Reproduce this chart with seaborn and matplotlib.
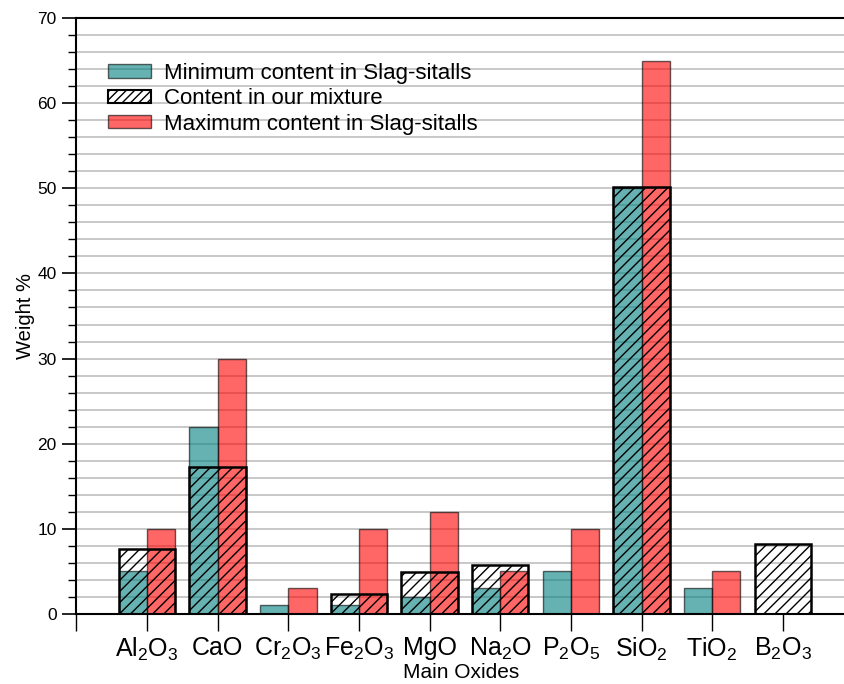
import matplotlib
matplotlib.use("Agg")
import matplotlib.pyplot as plt
from matplotlib.patches import Patch
from matplotlib.ticker import MultipleLocator
import numpy as np
import pandas as pd
import seaborn as sns

# Oxide composition ranges (wt %) for slag-sitalls and our batch
oxides = ["Al$_2$O$_3$", "CaO", "Cr$_2$O$_3$", "Fe$_2$O$_3$", "MgO",
          "Na$_2$O", "P$_2$O$_5$", "SiO$_2$", "TiO$_2$", "B$_2$O$_3$"]
min_content = [5, 22, 1, 1, 2, 3, 5, 50, 3, 0]
max_content = [10, 30, 3, 10, 12, 5, 10, 65, 5, 0]
our_mixture = [7.6, 17.3, 0, 2.3, 4.9, 5.8, 0, 50.2, 0, 8.2]

min_label = "Minimum content in Slag-sitalls"
mix_label = "Content in our mixture"
max_label = "Maximum content in Slag-sitalls"

sns.set_style("white")
plt.rcParams["font.family"] = ["Liberation Sans", "DejaVu Sans"]
plt.rcParams["mathtext.fontset"] = "custom"
plt.rcParams["mathtext.rm"] = "Liberation Sans"
plt.rcParams["mathtext.it"] = "Liberation Sans"
plt.rcParams["hatch.linewidth"] = 1.0
plt.rcParams["text.color"] = "black"
plt.rcParams["axes.labelcolor"] = "black"
plt.rcParams["xtick.color"] = "black"
plt.rcParams["ytick.color"] = "black"

teal = "#008080"
red = "#ff0000"

range_df = pd.DataFrame({
    "oxide": oxides * 2,
    "value": min_content + max_content,
    "kind": [min_label] * len(oxides) + [max_label] * len(oxides),
})
mix_df = pd.DataFrame({"oxide": oxides, "value": our_mixture})

fig = plt.figure(figsize=(8.45, 6.84), dpi=100)
ax = fig.add_axes([76.3 / 845, 1 - 614 / 684, 1 - 76.3 / 845, (614 - 18) / 684])

sns.barplot(data=range_df, x="oxide", y="value", hue="kind", order=oxides,
            hue_order=[min_label, max_label], palette=[teal, red],
            width=0.8, dodge=True, errorbar=None, saturation=1,
            alpha=0.6, edgecolor="black", linewidth=1.0, legend=False, ax=ax)
n_range = len(ax.patches)

sns.barplot(data=mix_df, x="oxide", y="value", order=oxides, color="white",
            width=0.8, errorbar=None, saturation=1, ax=ax)
for p in ax.patches[n_range:]:
    p.set_facecolor("none")
    p.set_edgecolor("black")
    p.set_linewidth(1.8)
    p.set_hatch("///")
    p.set_zorder(3)

ax.set_ylim(0, 70)
ax.set_xlim(-1, 9.88)
ax.set_xticks(np.arange(-1, len(oxides)))
ax.set_xticklabels([""] + oxides, fontsize=18)
ax.yaxis.set_major_locator(MultipleLocator(10))
ax.yaxis.set_minor_locator(MultipleLocator(2))
ax.tick_params(axis="y", which="major", direction="out", length=10, width=1.2,
               left=True, labelsize=12.5, pad=4)
ax.tick_params(axis="y", which="minor", direction="out", length=6, width=1.0, left=True)
ax.tick_params(axis="x", which="major", direction="out", length=12, width=1.0,
               bottom=True, pad=4)

ax.grid(True, axis="y", which="both", color="#c4c4c4", linewidth=1.3)
ax.grid(False, axis="x")
ax.set_axisbelow(True)

for side in ["left", "bottom", "top"]:
    ax.spines[side].set_visible(True)
    ax.spines[side].set_color("black")
    ax.spines[side].set_linewidth(1.5)
ax.spines["right"].set_visible(False)

ax.set_xlabel("Main Oxides", fontsize=15, labelpad=0)
ax.set_ylabel("Weight %", fontsize=14.5, labelpad=2)

handles = [
    Patch(facecolor=teal, alpha=0.6, edgecolor="black", linewidth=1.0, label=min_label),
    Patch(facecolor="white", edgecolor="black", hatch="////", linewidth=1.5, label=mix_label),
    Patch(facecolor=red, alpha=0.6, edgecolor="black", linewidth=1.0, label=max_label),
]
ax.legend(handles=handles, loc="upper left", bbox_to_anchor=(0.0416, 0.925),
          frameon=False, fontsize=16, borderpad=0, borderaxespad=0,
          handlelength=1.9, handleheight=0.55, handletextpad=0.6, labelspacing=0.2)

fig.savefig("out.png", dpi=100)
